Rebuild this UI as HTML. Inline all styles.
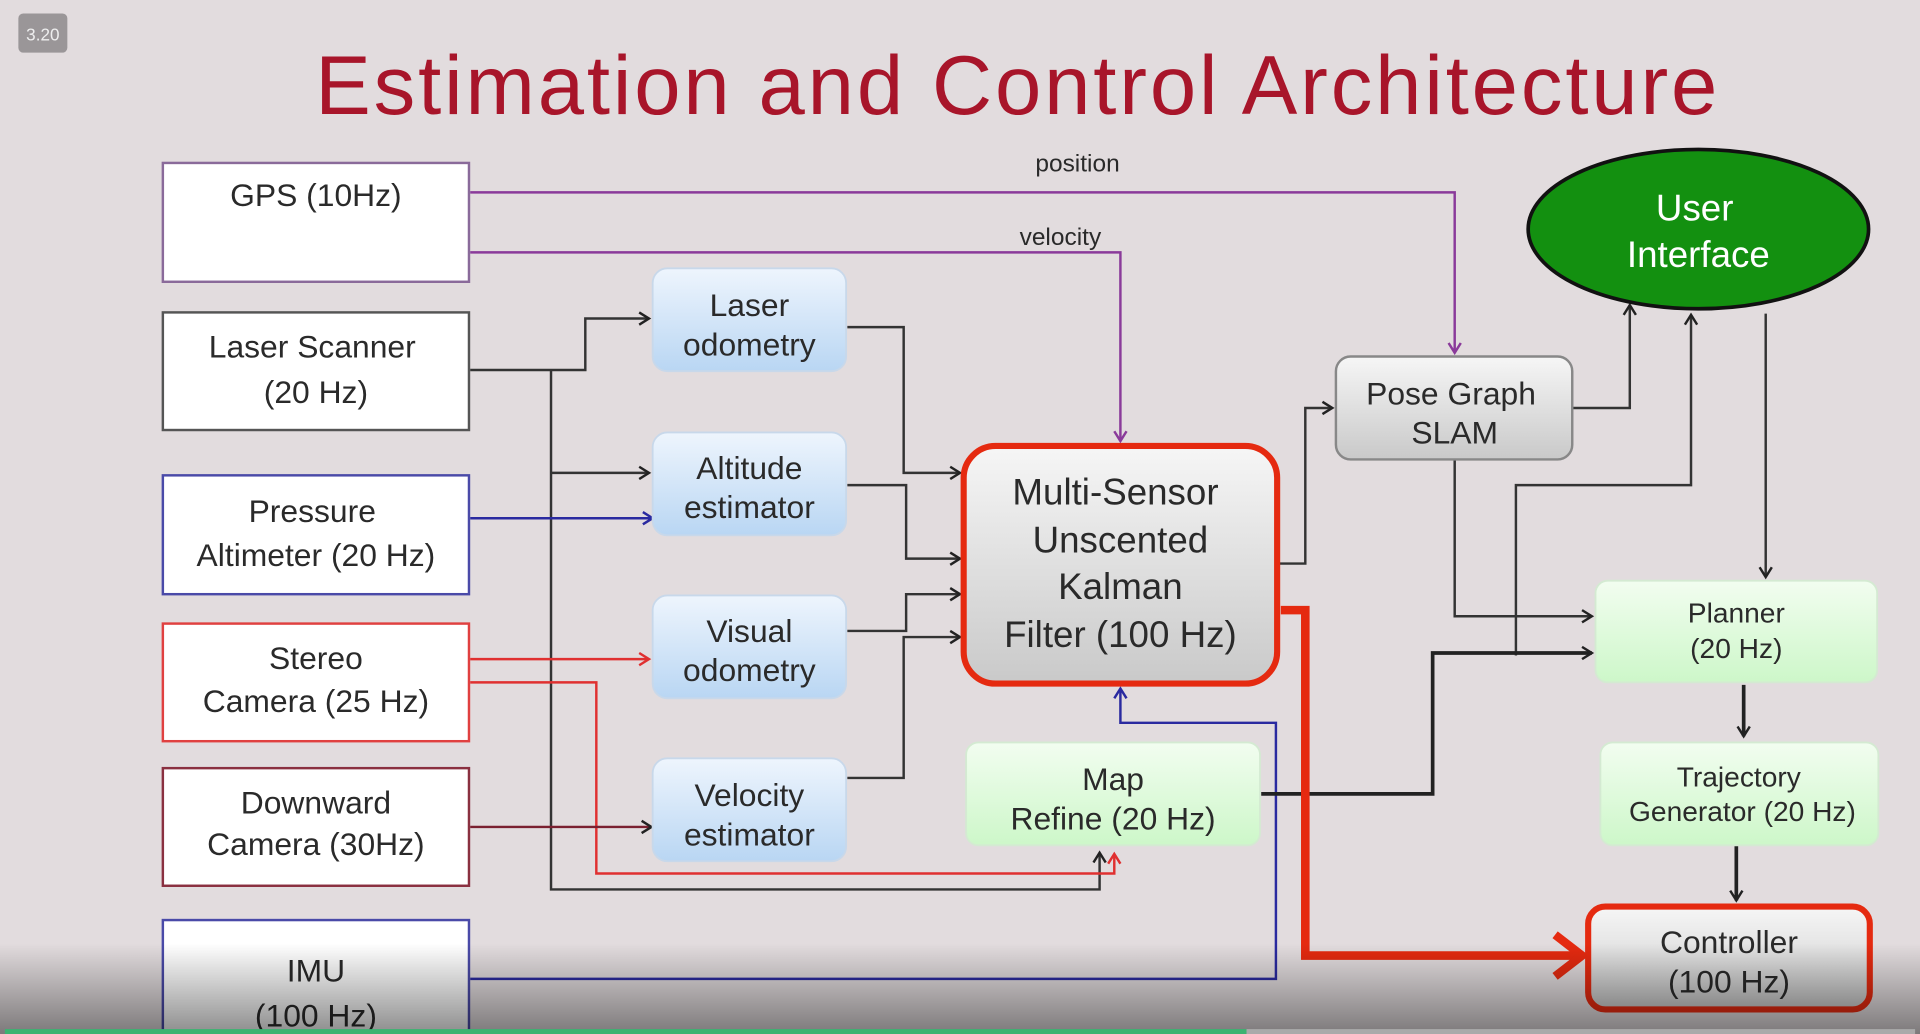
<!DOCTYPE html>
<html><head><meta charset="utf-8"><style>
html,body{margin:0;padding:0;width:1920px;height:1034px;overflow:hidden;background:#e2dcde}
svg{display:block}
text{font-family:"Liberation Sans",Arial,sans-serif;fill:#2a2a2a}
</style></head><body>
<svg width="1920" height="1034" viewBox="0 0 1568 844" preserveAspectRatio="none" xmlns="http://www.w3.org/2000/svg">
<defs>
<linearGradient id="bot" x1="0" y1="0" x2="0" y2="1">
<stop offset="0" stop-color="#000" stop-opacity="0"/><stop offset="1" stop-color="#000" stop-opacity="0.45"/></linearGradient>
<linearGradient id="blue" x1="0" y1="0" x2="0" y2="1"><stop offset="0" stop-color="#eef5fd"/><stop offset="1" stop-color="#b9d6f3"/></linearGradient>
<linearGradient id="gray" x1="0" y1="0" x2="0" y2="1"><stop offset="0" stop-color="#f6f6f6"/><stop offset="1" stop-color="#c9c9c9"/></linearGradient>
<linearGradient id="green" x1="0" y1="0" x2="0" y2="1"><stop offset="0" stop-color="#f2fdf0"/><stop offset="1" stop-color="#cdf7c9"/></linearGradient>
<marker id="ak" markerWidth="12" markerHeight="12" refX="10" refY="6" orient="auto" markerUnits="userSpaceOnUse"><path d="M2,1 L10,6 L2,11" fill="none" stroke="#222" stroke-width="2"/></marker>
<marker id="ap" markerWidth="12" markerHeight="12" refX="10" refY="6" orient="auto" markerUnits="userSpaceOnUse"><path d="M2,1 L10,6 L2,11" fill="none" stroke="#8a3a9a" stroke-width="2"/></marker>
<marker id="ab" markerWidth="12" markerHeight="12" refX="10" refY="6" orient="auto" markerUnits="userSpaceOnUse"><path d="M2,1 L10,6 L2,11" fill="none" stroke="#2a2aa0" stroke-width="2"/></marker>
<marker id="ar" markerWidth="12" markerHeight="12" refX="10" refY="6" orient="auto" markerUnits="userSpaceOnUse"><path d="M2,1 L10,6 L2,11" fill="none" stroke="#e03030" stroke-width="2"/></marker>
<marker id="arb" markerWidth="30" markerHeight="40" refX="26" refY="20" orient="auto" markerUnits="userSpaceOnUse"><path d="M4,3 L26,20 L4,37" fill="none" stroke="#e52a10" stroke-width="7"/></marker>
</defs>
<rect width="1568" height="844" fill="#e2dcde"/>
<rect x="15" y="11" width="40" height="32" rx="4" fill="#9a9698"/>
<text x="35" y="33" font-size="14" fill="#eee" style="fill:#eee" text-anchor="middle">3.20</text>
<text x="830" y="93" font-size="68" text-anchor="middle" style="fill:#a8152a" textLength="1145">Estimation and Control Architecture</text>

<!-- connectors -->
<g fill="none" stroke-width="2">
<path d="M384,157 H1188 V288" stroke="#8a3a9a" marker-end="url(#ap)"/>
<path d="M384,206 H915 V360" stroke="#8a3a9a" marker-end="url(#ap)"/>
<path d="M384,302 H478 V260 H530" stroke="#333" marker-end="url(#ak)"/>
<path d="M450,302 V726 H898 V696" stroke="#333" marker-end="url(#ak)"/>
<path d="M450,386 H530" stroke="#333" marker-end="url(#ak)"/>
<path d="M384,423 H533" stroke="#2a2aa0" marker-end="url(#ab)"/>
<path d="M384,538 H530" stroke="#e03030" marker-end="url(#ar)"/>
<path d="M384,557 H487 V713 H910 V697" stroke="#e03030" marker-end="url(#ar)"/>
<path d="M384,675 H532" stroke="#7a2030" marker-end="url(#ak)"/>
<path d="M384,799 H1042 V590 H915 V562" stroke="#2a2aa0" marker-end="url(#ab)"/>
<path d="M692,267 H738 V386 H784" stroke="#333" marker-end="url(#ak)"/>
<path d="M692,396 H740 V456 H784" stroke="#333" marker-end="url(#ak)"/>
<path d="M692,515 H740 V485 H784" stroke="#333" marker-end="url(#ak)"/>
<path d="M692,635 H738 V520 H784" stroke="#333" marker-end="url(#ak)"/>
<path d="M1044,460 H1066 V333 H1088" stroke="#333" marker-end="url(#ak)"/>
<path d="M1284,333 H1331 V249" stroke="#333" marker-end="url(#ak)"/>
<path d="M1238,535 V396 H1381 V257" stroke="#333" marker-end="url(#ak)"/>
<path d="M1442,256 V471" stroke="#333" marker-end="url(#ak)"/>
<path d="M1188,374 V503 H1300" stroke="#333" marker-end="url(#ak)"/>
<path d="M1030,648 H1170 V533 H1300" stroke="#222" stroke-width="3" marker-end="url(#ak)"/>
<path d="M1424,559 V601" stroke="#222" stroke-width="3" marker-end="url(#ak)"/>
<path d="M1418,690 V735" stroke="#222" stroke-width="3" marker-end="url(#ak)"/>
<path d="M1046,498 H1066 V780 H1292" stroke="#e52a10" stroke-width="7" marker-end="url(#arb)"/>
</g>
<text x="880" y="140" font-size="20" text-anchor="middle">position</text>
<text x="866" y="200" font-size="20" text-anchor="middle">velocity</text>

<!-- sensor boxes -->
<g stroke-width="2" fill="#fff">
<rect x="133" y="133" width="250" height="97" stroke="#8a6a9a"/>
<rect x="133" y="255" width="250" height="96" stroke="#555"/>
<rect x="133" y="388" width="250" height="97" stroke="#4a4aa8"/>
<rect x="133" y="509" width="250" height="96" stroke="#e04040"/>
<rect x="133" y="627" width="250" height="96" stroke="#8a3040"/>
<rect x="133" y="751" width="250" height="100" stroke="#4a4aa8"/>
</g>
<g font-size="26" text-anchor="middle">
<text x="258" y="168">GPS (10Hz)</text>
<text x="255" y="292">Laser Scanner</text><text x="258" y="329">(20 Hz)</text>
<text x="255" y="426">Pressure</text><text x="258" y="462">Altimeter (20 Hz)</text>
<text x="258" y="546">Stereo</text><text x="258" y="581">Camera (25 Hz)</text>
<text x="258" y="664">Downward</text><text x="258" y="698">Camera (30Hz)</text>
<text x="258" y="801">IMU</text><text x="258" y="838">(100 Hz)</text>
</g>

<!-- blue boxes -->
<g fill="url(#blue)" stroke="#c8d8ea" stroke-width="1.5">
<rect x="533" y="219" width="158" height="84" rx="12"/>
<rect x="533" y="353" width="158" height="84" rx="12"/>
<rect x="533" y="486" width="158" height="84" rx="12"/>
<rect x="533" y="619" width="158" height="84" rx="12"/>
</g>
<g font-size="26" text-anchor="middle">
<text x="612" y="258">Laser</text><text x="612" y="290">odometry</text>
<text x="612" y="391">Altitude</text><text x="612" y="423">estimator</text>
<text x="612" y="524">Visual</text><text x="612" y="556">odometry</text>
<text x="612" y="658">Velocity</text><text x="612" y="690">estimator</text>
</g>

<!-- UKF -->
<rect x="787" y="364" width="256" height="194" rx="26" fill="url(#gray)" stroke="#e52a10" stroke-width="5"/>
<g font-size="30" text-anchor="middle">
<text x="911" y="412">Multi-Sensor</text><text x="915" y="451">Unscented</text>
<text x="915" y="489">Kalman</text><text x="915" y="528">Filter (100 Hz)</text>
</g>

<rect x="789" y="606" width="240" height="84" rx="10" fill="url(#green)" stroke="#d4ead2" stroke-width="1.5"/>
<text x="909" y="645" font-size="26" text-anchor="middle">Map</text>
<text x="909" y="677" font-size="26" text-anchor="middle">Refine (20 Hz)</text>

<rect x="1091" y="291" width="193" height="84" rx="12" fill="url(#gray)" stroke="#888" stroke-width="2"/>
<text x="1185" y="330" font-size="26" text-anchor="middle">Pose Graph</text>
<text x="1188" y="362" font-size="26" text-anchor="middle">SLAM</text>

<ellipse cx="1387" cy="187" rx="139" ry="65" fill="#139010" stroke="#111" stroke-width="3"/>
<text x="1384" y="180" font-size="30" text-anchor="middle" style="fill:#fff">User</text>
<text x="1387" y="218" font-size="30" text-anchor="middle" style="fill:#fff">Interface</text>

<g fill="url(#green)" stroke="#d4ead2" stroke-width="1.5">
<rect x="1303" y="474" width="230" height="83" rx="10"/>
<rect x="1307" y="606" width="227" height="84" rx="10"/>
</g>
<g font-size="23" text-anchor="middle">
<text x="1418" y="508">Planner</text><text x="1418" y="537">(20 Hz)</text>
<text x="1420" y="642">Trajectory</text><text x="1423" y="670">Generator (20 Hz)</text>
</g>

<rect x="1297" y="740" width="230" height="84" rx="14" fill="url(#gray)" stroke="#e52a10" stroke-width="5"/>
<text x="1412" y="778" font-size="26" text-anchor="middle">Controller</text>
<text x="1412" y="810" font-size="26" text-anchor="middle">(100 Hz)</text>

<rect x="0" y="770" width="1568" height="74" fill="url(#bot)"/>
<rect x="4" y="840" width="1014" height="4" fill="#3cb371"/>
<rect x="1018" y="840" width="546" height="4" fill="#aaa"/>
</svg>
</body></html>
